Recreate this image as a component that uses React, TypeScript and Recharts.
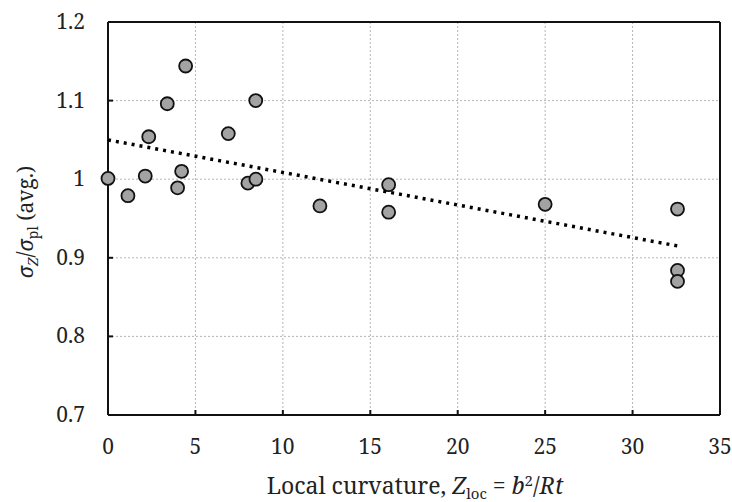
import React from "react";
import {
  ScatterChart,
  Scatter,
  XAxis,
  YAxis,
  CartesianGrid,
  ReferenceLine,
  Label,
} from "recharts";

// measured points: local curvature vs normalised stress
const curvature = [0, 1.14, 2.33, 2.13, 3.39, 3.98, 4.21, 4.44, 6.88, 8.0, 8.46, 8.45, 12.12, 16.05, 16.05, 25.0, 32.57, 32.57, 32.57];
const stressRatio = [1.001, 0.979, 1.054, 1.004, 1.096, 0.989, 1.01, 1.144, 1.058, 0.995, 1.0, 1.1, 0.966, 0.993, 0.958, 0.968, 0.962, 0.884, 0.87];

// linear trend end points
const trendX = [0, 32.6];
const trendY = [1.05, 0.915];

const xTicks = [0, 5, 10, 15, 20, 25, 30, 35];
const yTicks = [0.7, 0.8, 0.9, 1, 1.1, 1.2];

const points = curvature.map((x, i) => ({ x, y: stressRatio[i] }));
const trend = trendX.map((x, i) => ({ x, y: trendY[i] }));

const FONT = "Noto Serif";

const Marker = (props: any) => (
  <circle cx={props.cx} cy={props.cy} r={6.5} fill="#a3a3a3" stroke="#111" strokeWidth={1.8} />
);

const XTick = (props: any) => (
  <text x={props.x} y={props.y + 44} textAnchor="middle" fontFamily={FONT} fontSize={21} fill="#222">
    {props.payload.value}
  </text>
);

const YTick = (props: any) => (
  <text x={props.x - 28} y={props.y + 7} textAnchor="end" fontFamily={FONT} fontSize={21} fill="#222">
    {props.payload.value}
  </text>
);

const XTitle = () => (
  <text x={415} y={494} textAnchor="middle" fontFamily={FONT} fontSize={23} fill="#222">
    <tspan>Local curvature, </tspan>
    <tspan fontStyle="italic">Z</tspan>
    <tspan fontSize={15} dy={5}>loc</tspan>
    <tspan dy={-5}> = </tspan>
    <tspan fontStyle="italic">b</tspan>
    <tspan fontSize={15} dy={-8}>2</tspan>
    <tspan dy={8}>/</tspan>
    <tspan fontStyle="italic">Rt</tspan>
  </text>
);

const YTitle = () => (
  <text
    transform="rotate(-90)"
    x={-222}
    y={33}
    textAnchor="middle"
    fontFamily={FONT}
    fontSize={21}
    fill="#222"
  >
    <tspan fontStyle="italic">σ</tspan>
    <tspan fontStyle="italic" fontSize={14} dy={5}>Z</tspan>
    <tspan dy={-5}>/</tspan>
    <tspan fontStyle="italic">σ</tspan>
    <tspan fontSize={14} dy={5}>pl</tspan>
    <tspan dy={-5}> (avg.)</tspan>
  </text>
);

export default function App() {
  return (
    <div style={{ position: "absolute", left: 0, top: 0, background: "#fff" }}>
      <ScatterChart
        width={732}
        height={502}
        margin={{ top: 22, right: 12, bottom: 0, left: 0 }}
      >
        <CartesianGrid stroke="#b5b5b5" strokeDasharray="2 2" strokeWidth={1} />
        <XAxis
          type="number"
          dataKey="x"
          domain={[0, 35]}
          ticks={xTicks}
          height={87}
          axisLine={{ stroke: "#111", strokeWidth: 2 }}
          tickLine={{ stroke: "#111", strokeWidth: 2 }}
          tickSize={-5}
          tickMargin={0}
          tick={XTick}
        >
          <Label content={() => <XTitle />} />
        </XAxis>
        <YAxis
          type="number"
          dataKey="y"
          domain={[0.7, 1.2]}
          ticks={yTicks}
          width={108}
          axisLine={{ stroke: "#111", strokeWidth: 2 }}
          tickLine={{ stroke: "#111", strokeWidth: 2 }}
          tickSize={-5}
          tickMargin={0}
          tick={YTick}
        >
          <Label content={() => <YTitle />} />
        </YAxis>
        <ReferenceLine y={1.2} stroke="#111" strokeWidth={2} />
        <ReferenceLine x={35} stroke="#111" strokeWidth={2} />
        <Scatter data={points} shape={Marker} isAnimationActive={false} />
        <Scatter
          data={trend}
          line={{ stroke: "#000", strokeWidth: 3.5, strokeDasharray: "3 5" }}
          lineType="joint"
          shape={() => <g />}
          isAnimationActive={false}
        />
      </ScatterChart>
    </div>
  );
}
